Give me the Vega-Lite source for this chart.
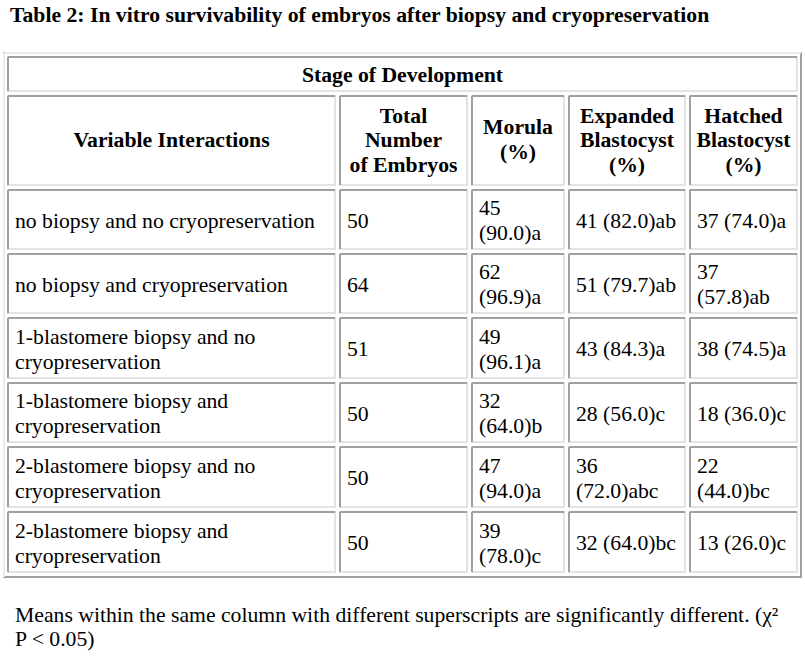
{
  "$schema": "https://vega.github.io/schema/vega-lite/v6.json",
  "width": 805,
  "height": 664,
  "padding": 0,
  "autosize": {"type": "none"},
  "background": "white",
  "config": {
    "view": {"stroke": null},
    "text": {"font": "Liberation Serif", "fontSize": 21.7, "color": "black"}
  },
  "datasets": {
    "table": [{"c0": 0, "c1": 5, "r0": 0, "r1": 8}],
    "cells": [
      {"kind": "span", "c0": 0, "c1": 5, "r0": 0, "r1": 1, "text": "Stage of Development"},
      {"kind": "head", "c0": 0, "c1": 1, "r0": 1, "r1": 2, "text": "Variable Interactions"},
      {"kind": "head", "c0": 1, "c1": 2, "r0": 1, "r1": 2, "text": "Total\nNumber\nof Embryos"},
      {"kind": "head", "c0": 2, "c1": 3, "r0": 1, "r1": 2, "text": "Morula\n(%)"},
      {"kind": "head", "c0": 3, "c1": 4, "r0": 1, "r1": 2, "text": "Expanded\nBlastocyst\n(%)"},
      {"kind": "head", "c0": 4, "c1": 5, "r0": 1, "r1": 2, "text": "Hatched\nBlastocyst\n(%)"},
      {"kind": "body", "c0": 0, "c1": 1, "r0": 2, "r1": 3, "text": "no biopsy and no cryopreservation"},
      {"kind": "body", "c0": 1, "c1": 2, "r0": 2, "r1": 3, "text": "50"},
      {"kind": "body", "c0": 2, "c1": 3, "r0": 2, "r1": 3, "text": "45\n(90.0)a"},
      {"kind": "body", "c0": 3, "c1": 4, "r0": 2, "r1": 3, "text": "41 (82.0)ab"},
      {"kind": "body", "c0": 4, "c1": 5, "r0": 2, "r1": 3, "text": "37 (74.0)a"},
      {"kind": "body", "c0": 0, "c1": 1, "r0": 3, "r1": 4, "text": "no biopsy and cryopreservation"},
      {"kind": "body", "c0": 1, "c1": 2, "r0": 3, "r1": 4, "text": "64"},
      {"kind": "body", "c0": 2, "c1": 3, "r0": 3, "r1": 4, "text": "62\n(96.9)a"},
      {"kind": "body", "c0": 3, "c1": 4, "r0": 3, "r1": 4, "text": "51 (79.7)ab"},
      {"kind": "body", "c0": 4, "c1": 5, "r0": 3, "r1": 4, "text": "37\n(57.8)ab"},
      {"kind": "body", "c0": 0, "c1": 1, "r0": 4, "r1": 5, "text": "1-blastomere biopsy and no\ncryopreservation"},
      {"kind": "body", "c0": 1, "c1": 2, "r0": 4, "r1": 5, "text": "51"},
      {"kind": "body", "c0": 2, "c1": 3, "r0": 4, "r1": 5, "text": "49\n(96.1)a"},
      {"kind": "body", "c0": 3, "c1": 4, "r0": 4, "r1": 5, "text": "43 (84.3)a"},
      {"kind": "body", "c0": 4, "c1": 5, "r0": 4, "r1": 5, "text": "38 (74.5)a"},
      {"kind": "body", "c0": 0, "c1": 1, "r0": 5, "r1": 6, "text": "1-blastomere biopsy and\ncryopreservation"},
      {"kind": "body", "c0": 1, "c1": 2, "r0": 5, "r1": 6, "text": "50"},
      {"kind": "body", "c0": 2, "c1": 3, "r0": 5, "r1": 6, "text": "32\n(64.0)b"},
      {"kind": "body", "c0": 3, "c1": 4, "r0": 5, "r1": 6, "text": "28 (56.0)c"},
      {"kind": "body", "c0": 4, "c1": 5, "r0": 5, "r1": 6, "text": "18 (36.0)c"},
      {"kind": "body", "c0": 0, "c1": 1, "r0": 6, "r1": 7, "text": "2-blastomere biopsy and no\ncryopreservation"},
      {"kind": "body", "c0": 1, "c1": 2, "r0": 6, "r1": 7, "text": "50"},
      {"kind": "body", "c0": 2, "c1": 3, "r0": 6, "r1": 7, "text": "47\n(94.0)a"},
      {"kind": "body", "c0": 3, "c1": 4, "r0": 6, "r1": 7, "text": "36\n(72.0)abc"},
      {"kind": "body", "c0": 4, "c1": 5, "r0": 6, "r1": 7, "text": "22\n(44.0)bc"},
      {"kind": "body", "c0": 0, "c1": 1, "r0": 7, "r1": 8, "text": "2-blastomere biopsy and\ncryopreservation"},
      {"kind": "body", "c0": 1, "c1": 2, "r0": 7, "r1": 8, "text": "50"},
      {"kind": "body", "c0": 2, "c1": 3, "r0": 7, "r1": 8, "text": "39\n(78.0)c"},
      {"kind": "body", "c0": 3, "c1": 4, "r0": 7, "r1": 8, "text": "32 (64.0)bc"},
      {"kind": "body", "c0": 4, "c1": 5, "r0": 7, "r1": 8, "text": "13 (26.0)c"}
    ],
    "notes": [
      {"kind": "title", "c0": 0, "r": -1, "text": "Table 2: In vitro survivability of embryos after biopsy and cryopreservation"},
      {"kind": "foot", "c0": 0, "r": 9, "text": "Means within the same column with different superscripts are significantly different. (χ²\nP < 0.05)"}
    ]
  },
  "layer": [
    {
      "layer": [
        {
          "data": {"name": "table"},
          "mark": {"type": "rect", "fill": "white", "stroke": "#a0a0a0", "strokeWidth": 2, "xOffset": -4, "x2Offset": -1, "yOffset": -4, "y2Offset": 0},
          "encoding": {
            "x": {"field": "c0", "type": "quantitative", "axis": null, "scale": {"type": "linear", "domain": [0, 1, 2, 3, 4, 5], "range": [8, 340, 472, 569, 690, 802], "zero": false, "nice": false}},
            "x2": {"field": "c1"},
            "y": {"field": "r0", "type": "quantitative", "axis": null, "scale": {"type": "linear", "domain": [-1, 0, 1, 2, 3, 4, 5, 6, 7, 8, 9], "range": [15, 57, 96, 190, 254, 318, 383, 447, 512, 577, 626], "zero": false, "nice": false}},
            "y2": {"field": "r1"}
          }
        },
        {
          "data": {"name": "table"},
          "mark": {"type": "rule", "stroke": "#ebebeb", "strokeWidth": 2, "xOffset": -4, "x2Offset": -1, "yOffset": -4},
          "encoding": {
            "x": {"field": "c0", "type": "quantitative", "axis": null},
            "x2": {"field": "c1"},
            "y": {"field": "r0", "type": "quantitative", "axis": null}
          }
        },
        {
          "data": {"name": "table"},
          "mark": {"type": "rule", "stroke": "#ebebeb", "strokeWidth": 2, "xOffset": -4, "yOffset": -4, "y2Offset": 0},
          "encoding": {
            "x": {"field": "c0", "type": "quantitative", "axis": null},
            "y": {"field": "r0", "type": "quantitative", "axis": null},
            "y2": {"field": "r1"}
          }
        },
        {
          "data": {"name": "cells"},
          "mark": {"type": "rect", "fill": "white", "stroke": "#e3e3e3", "strokeWidth": 2, "x2Offset": -5, "y2Offset": -5},
          "encoding": {
            "x": {"field": "c0", "type": "quantitative", "axis": null},
            "x2": {"field": "c1"},
            "y": {"field": "r0", "type": "quantitative", "axis": null},
            "y2": {"field": "r1"}
          }
        },
        {
          "data": {"name": "cells"},
          "mark": {"type": "rule", "stroke": "#a0a0a0", "strokeWidth": 2, "x2Offset": -5},
          "encoding": {
            "x": {"field": "c0", "type": "quantitative", "axis": null},
            "x2": {"field": "c1"},
            "y": {"field": "r0", "type": "quantitative", "axis": null}
          }
        },
        {
          "data": {"name": "cells"},
          "mark": {"type": "rule", "stroke": "#a0a0a0", "strokeWidth": 2, "y2Offset": -5},
          "encoding": {
            "x": {"field": "c0", "type": "quantitative", "axis": null},
            "y": {"field": "r0", "type": "quantitative", "axis": null},
            "y2": {"field": "r1"}
          }
        },
        {
          "data": {"name": "cells"},
          "transform": [
            {"calculate": "length(split(datum.text, '\\n'))", "as": "nl"},
            {"filter": "datum.kind === 'body' && datum.nl === 1"},
            {"calculate": "(datum.r0 + datum.r1) / 2", "as": "rm"}
          ],
          "mark": {"type": "text", "font": "Liberation Serif", "align": "left", "baseline": "middle", "xOffset": 7, "yOffset": -1.5},
          "encoding": {
            "x": {"field": "c0", "type": "quantitative", "axis": null},
            "y": {"field": "rm", "type": "quantitative", "axis": null},
            "text": {"field": "text", "type": "nominal"}
          }
        },
        {
          "data": {"name": "cells"},
          "transform": [
            {"calculate": "length(split(datum.text, '\\n'))", "as": "nl"},
            {"filter": "datum.kind === 'body' && datum.nl === 2"},
            {"calculate": "(datum.r0 + datum.r1) / 2", "as": "rm"}
          ],
          "mark": {"type": "text", "font": "Liberation Serif", "align": "left", "baseline": "middle", "lineBreak": "\n", "lineHeight": 25, "xOffset": 7, "yOffset": -14},
          "encoding": {
            "x": {"field": "c0", "type": "quantitative", "axis": null},
            "y": {"field": "rm", "type": "quantitative", "axis": null},
            "text": {"field": "text", "type": "nominal"}
          }
        },
        {
          "data": {"name": "cells"},
          "transform": [
            {"calculate": "length(split(datum.text, '\\n'))", "as": "nl"},
            {"filter": "datum.kind === 'head' && datum.nl === 1"},
            {"calculate": "(datum.r0 + datum.r1) / 2", "as": "rm"},
            {"calculate": "(datum.c0 + datum.c1) / 2", "as": "cm"}
          ],
          "mark": {"type": "text", "font": "Liberation Serif", "align": "center", "baseline": "middle", "fontWeight": "bold", "xOffset": -2.5, "yOffset": -3},
          "encoding": {
            "x": {"field": "cm", "type": "quantitative", "axis": null},
            "y": {"field": "rm", "type": "quantitative", "axis": null},
            "text": {"field": "text", "type": "nominal"}
          }
        },
        {
          "data": {"name": "cells"},
          "transform": [
            {"calculate": "length(split(datum.text, '\\n'))", "as": "nl"},
            {"filter": "datum.kind === 'head' && datum.nl === 2"},
            {"calculate": "(datum.r0 + datum.r1) / 2", "as": "rm"},
            {"calculate": "(datum.c0 + datum.c1) / 2", "as": "cm"}
          ],
          "mark": {"type": "text", "font": "Liberation Serif", "align": "center", "baseline": "middle", "fontWeight": "bold", "lineBreak": "\n", "lineHeight": 25, "xOffset": -2.5, "yOffset": -16},
          "encoding": {
            "x": {"field": "cm", "type": "quantitative", "axis": null},
            "y": {"field": "rm", "type": "quantitative", "axis": null},
            "text": {"field": "text", "type": "nominal"}
          }
        },
        {
          "data": {"name": "cells"},
          "transform": [
            {"calculate": "length(split(datum.text, '\\n'))", "as": "nl"},
            {"filter": "datum.kind === 'head' && datum.nl === 3"},
            {"calculate": "(datum.r0 + datum.r1) / 2", "as": "rm"},
            {"calculate": "(datum.c0 + datum.c1) / 2", "as": "cm"}
          ],
          "mark": {"type": "text", "font": "Liberation Serif", "align": "center", "baseline": "middle", "fontWeight": "bold", "lineBreak": "\n", "lineHeight": 24.5, "xOffset": -2.5, "yOffset": -27.5},
          "encoding": {
            "x": {"field": "cm", "type": "quantitative", "axis": null},
            "y": {"field": "rm", "type": "quantitative", "axis": null},
            "text": {"field": "text", "type": "nominal"}
          }
        },
        {
          "data": {"name": "notes"},
          "transform": [{"filter": "datum.kind === 'title'"}],
          "mark": {"type": "text", "font": "Liberation Serif", "align": "left", "baseline": "middle", "fontWeight": "bold", "xOffset": 2},
          "encoding": {
            "x": {"field": "c0", "type": "quantitative", "axis": null},
            "y": {"field": "r", "type": "quantitative", "axis": null},
            "text": {"field": "text", "type": "nominal"}
          }
        },
        {
          "data": {"name": "notes"},
          "transform": [{"filter": "datum.kind === 'foot'"}],
          "mark": {"type": "text", "font": "Liberation Serif", "align": "left", "baseline": "middle", "lineBreak": "\n", "lineHeight": 24, "xOffset": 7, "yOffset": -11},
          "encoding": {
            "x": {"field": "c0", "type": "quantitative", "axis": null},
            "y": {"field": "r", "type": "quantitative", "axis": null},
            "text": {"field": "text", "type": "nominal"}
          }
        }
      ]
    },
    {
      "data": {"name": "cells"},
      "transform": [
        {"filter": "datum.kind === 'span'"},
        {"calculate": "(datum.r0 + datum.r1) / 2", "as": "rm"},
        {"calculate": "(datum.c0 + datum.c1) / 2", "as": "cm"}
      ],
      "mark": {"type": "text", "font": "Liberation Serif", "align": "center", "baseline": "middle", "fontWeight": "bold", "xOffset": -2.5, "yOffset": -1.5},
      "encoding": {
        "x": {"field": "cm", "type": "quantitative", "axis": null, "scale": {"type": "linear", "domain": [0, 5], "range": [8, 802], "zero": false, "nice": false}},
        "y": {"field": "rm", "type": "quantitative", "axis": null},
        "text": {"field": "text", "type": "nominal"}
      }
    }
  ],
  "resolve": {"scale": {"x": "independent"}}
}
